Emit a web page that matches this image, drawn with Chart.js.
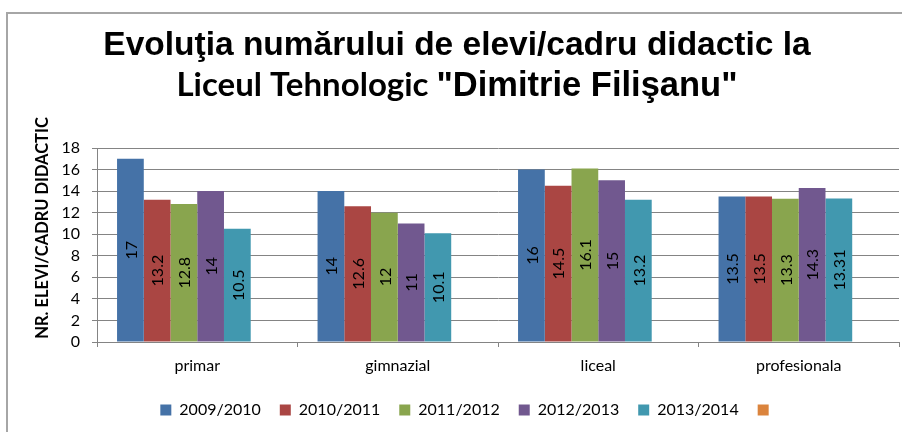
<!DOCTYPE html>
<html lang="ro">
<head>
<meta charset="utf-8">
<title>Evoluţia numărului de elevi/cadru didactic</title>
<script src="https://cdn.jsdelivr.net/npm/chart.js@4.4.1/dist/chart.umd.min.js"></script>
<style>
  html, body { margin: 0; padding: 0; background: #fff; overflow: hidden; }
  canvas { display: block; }
</style>
</head>
<body>
<canvas id="grafic" width="902" height="432"></canvas>
<script>
// Date
const categorii = ['primar', 'gimnazial', 'liceal', 'profesionala'];
const ani = ['2009/2010', '2010/2011', '2011/2012', '2012/2013', '2013/2014', ''];
const val2009 = [17, 14, 16, 13.5];
const val2010 = [13.2, 12.6, 14.5, 13.5];
const val2011 = [12.8, 12, 16.1, 13.3];
const val2012 = [14, 11, 15, 14.3];
const val2013 = [10.5, 10.1, 13.2, 13.31];
const valGol = [null, null, null, null]; // serie goală, apare doar în legendă
const culori = ['#4572a7', '#aa4643', '#89a54e', '#71588f', '#4198af', '#db843d'];

const titlu1 = 'Evoluţia numărului de elevi/cadru didactic la';
const titlu2a = 'Liceul Tehnologic ';
const titlu2b = '"Dimitrie Filişanu"';
const titluY = 'NR. ELEVI/CADRU DIDACTIC';

const GRI = '#848484';

// Cadru gri, titlul pe două rânduri (fonturi amestecate pe rândul 2) și titlul axei Y
const titluPlugin = {
  id: 'titlu',
  beforeDraw(chart) {
    const ctx = chart.ctx;
    ctx.save();
    ctx.strokeStyle = '#a6a6a6';
    ctx.lineWidth = 2;
    ctx.strokeRect(7, 13, chart.width + 20, chart.height + 20);

    const cx = 457;
    ctx.fillStyle = '#000';
    ctx.textBaseline = 'alphabetic';
    ctx.textAlign = 'center';
    ctx.font = 'bold 33.5px "Liberation Sans", Arial, sans-serif';
    ctx.fillText(titlu1, cx, 55);

    ctx.textAlign = 'left';
    const fA = 'bold 33px Lato, sans-serif';
    const fB = 'bold 34.5px "Liberation Sans", Arial, sans-serif';
    ctx.font = fA;
    const wA = ctx.measureText(titlu2a).width;
    ctx.font = fB;
    const wB = ctx.measureText(titlu2b).width;
    const x0 = cx - (wA + wB) / 2;
    ctx.font = fA;
    ctx.fillText(titlu2a, x0, 96);
    ctx.font = fB;
    ctx.fillText(titlu2b, x0 + wA, 96);

    ctx.translate(43, 228);
    ctx.rotate(-Math.PI / 2);
    ctx.textAlign = 'center';
    ctx.textBaseline = 'middle';
    ctx.font = 'bold 16.5px Lato, sans-serif';
    ctx.fillText(titluY, 0, 0);
    ctx.restore();
  }
};

// Valori rotite la 90°, centrate în fiecare bară
const eticheteBare = {
  id: 'eticheteBare',
  afterDatasetsDraw(chart) {
    const ctx = chart.ctx;
    ctx.save();
    ctx.font = '16px Lato, sans-serif';
    ctx.fillStyle = '#000';
    ctx.textAlign = 'center';
    ctx.textBaseline = 'middle';
    chart.data.datasets.forEach((ds, i) => {
      chart.getDatasetMeta(i).data.forEach((bar, j) => {
        const v = ds.data[j];
        if (v == null) return;
        ctx.save();
        ctx.translate(bar.x, (bar.y + bar.base) / 2);
        ctx.rotate(-Math.PI / 2);
        ctx.fillText(String(v), 0, 1);
        ctx.restore();
      });
    });
    ctx.restore();
  }
};

const serii = [val2009, val2010, val2011, val2012, val2013, valGol];

new Chart(document.getElementById('grafic'), {
  type: 'bar',
  data: {
    labels: categorii,
    datasets: serii.map((d, i) => ({
      label: ani[i],
      data: d,
      backgroundColor: culori[i],
      borderWidth: 0,
      categoryPercentage: 0.8,
      barPercentage: 1.0,
    })),
  },
  options: {
    responsive: false,
    animation: false,
    layout: { padding: { top: 148, left: 38, right: 3, bottom: 4 } },
    plugins: {
      title: { display: false },
      tooltip: { enabled: false },
      legend: {
        position: 'bottom',
        labels: {
          boxWidth: 11,
          boxHeight: 11,
          padding: 19,
          color: '#000',
          font: { family: 'Lato', size: 16 },
        },
      },
    },
    scales: {
      x: {
        grid: { drawOnChartArea: false, drawTicks: true, tickLength: 5, color: GRI, offset: true },
        border: { color: GRI },
        ticks: { color: '#000', font: { family: 'Lato', size: 16 }, padding: 9 },
        afterFit(s) { s.height = 41; },
      },
      y: {
        min: 0,
        max: 18,
        ticks: { stepSize: 2, autoSkip: false, color: '#000', font: { family: 'Lato', size: 16 }, padding: 12 },
        grid: { color: GRI, tickLength: 5 },
        border: { color: GRI },
        afterFit(s) { s.width = 59; },
      },
    },
  },
  plugins: [titluPlugin, eticheteBare],
});
</script>
</body>
</html>
